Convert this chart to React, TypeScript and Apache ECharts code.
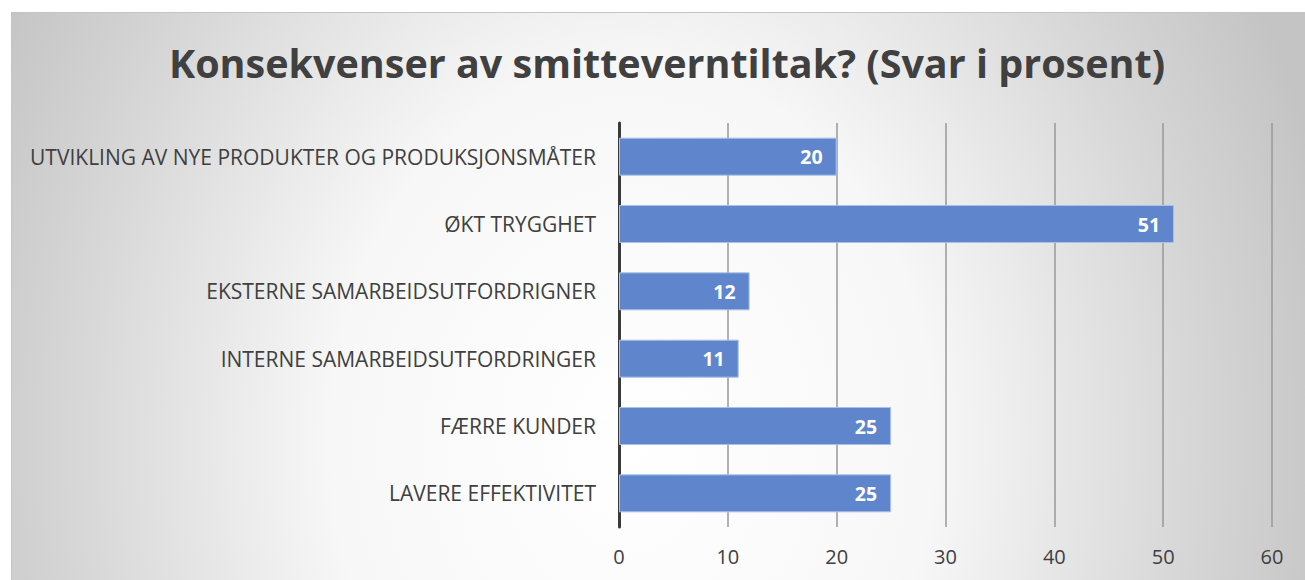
import React, { useEffect, useRef } from "react";
import * as echarts from "echarts";

const titleText = "Konsekvenser av smitteverntiltak? (Svar i prosent)";
const categories = [
  "UTVIKLING AV NYE PRODUKTER OG PRODUKSJONSMÅTER",
  "ØKT TRYGGHET",
  "EKSTERNE SAMARBEIDSUTFORDRIGNER",
  "INTERNE SAMARBEIDSUTFORDRINGER",
  "FÆRRE KUNDER",
  "LAVERE EFFEKTIVITET",
];
const values = [20, 51, 12, 11, 25, 25];
const axisMin = 0;
const axisMax = 60;
const axisInterval = 10;

export default function App() {
  const ref = useRef<HTMLDivElement>(null);
  useEffect(() => {
    if (!ref.current) return;
    const chart = echarts.init(ref.current, null, { renderer: "svg" });
    const font = "'Open Sans', 'Noto Sans', sans-serif";
    chart.setOption({
      animation: false,
      backgroundColor: "transparent",
      title: {
        text: titleText,
        left: 662,
        textAlign: "center",
        top: 38,
        textStyle: {
          fontFamily: font,
          fontSize: 39.5,
          fontWeight: "bold",
          color: "#404040",
        },
      },
      grid: { left: 619, right: 33, top: 123, bottom: 53, containLabel: false },
      xAxis: {
        type: "value",
        min: axisMin,
        max: axisMax,
        interval: axisInterval,
        axisLine: { show: false },
        axisTick: { show: false },
        axisLabel: {
          fontFamily: font,
          fontSize: 20,
          color: "#404040",
          margin: 19,
        },
        splitLine: { show: true, lineStyle: { color: "#999999", width: 1.5 } },
      },
      yAxis: {
        type: "category",
        data: categories,
        inverse: true,
        axisLine: { show: true, lineStyle: { color: "#3a3a3a", width: 3 } },
        axisTick: { show: false },
        axisLabel: {
          fontFamily: font,
          fontSize: 21,
          color: "#404040",
          margin: 23,
        },
      },
      series: [
        {
          type: "bar",
          data: values,
          barWidth: 38,
          itemStyle: { color: "#5f86cc", borderColor: "#a9c0e8", borderWidth: 1 },
          label: {
            show: true,
            position: "insideRight",
            distance: 14,
            fontFamily: font,
            fontSize: 19.5,
            fontWeight: "bold",
            color: "#ffffff",
          },
        },
      ],
    });
    return () => chart.dispose();
  }, []);
  return (
    <div style={{ position: "absolute", left: 0, top: 0, width: 1305, height: 580, background: "#ffffff", overflow: "hidden" }}>
      <div
        style={{
          position: "absolute",
          left: 11,
          top: 12,
          width: 1300,
          height: 580,
          boxSizing: "border-box",
          borderTop: "1px solid #c4c4c4",
          borderLeft: "1px solid #c4c4c4",
          background:
            "radial-gradient(720px 900px at 620px 430px, #ffffff 0%, #f7f7f7 42%, #d8d8d8 76%, #c4c4c4 100%)",
        }}
      />
      <div
        ref={ref}
        style={{ position: "absolute", left: 0, top: 0, width: 1305, height: 580 }}
      />
    </div>
  );
}
